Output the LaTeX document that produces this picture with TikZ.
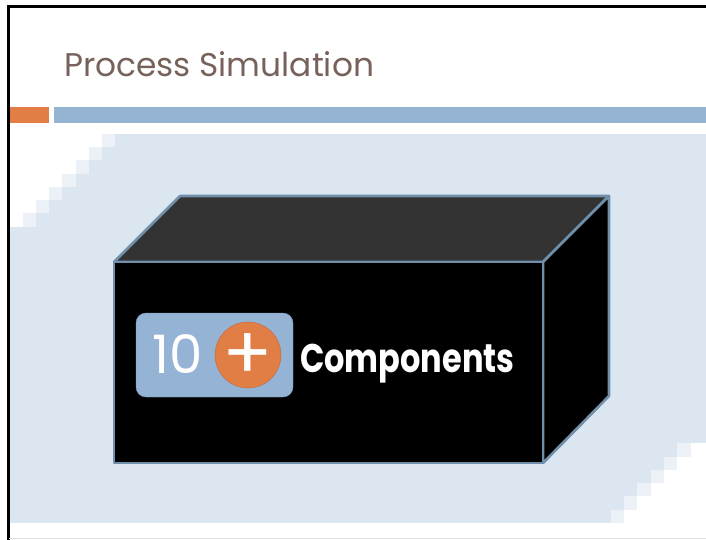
\documentclass[tikz,border=0pt]{standalone}
\usepackage{fontspec}
\usepackage{graphicx}
\setmainfont{Poppins}
\definecolor{titlebrown}{HTML}{77625B}
\definecolor{accentorange}{HTML}{E07E45}
\definecolor{barblue}{HTML}{94B4D2}
\definecolor{bglight}{HTML}{DCE6F0}
\definecolor{bgfade}{HTML}{EBF1F7}
\definecolor{boxblue}{HTML}{6F8FAA}
\definecolor{topgray}{HTML}{333333}
\definecolor{badgeblue}{HTML}{95B3D5}
\definecolor{badgeedge}{HTML}{7D9CBB}
\definecolor{circleedge}{HTML}{C2693A}
\begin{document}
\begin{tikzpicture}[x=1pt, y=-1pt]
    \tikzstyle{every node}=[inner sep=0pt, text=white]
    \tikzstyle{boxedge}=[draw=boxblue, line width=2.6pt, line join=round]
    \useasboundingbox (0,0) rectangle (706,540);
    \fill[white] (0,0) rectangle (706,540);
    \fill[bglight] (10,134) rectangle (706,523);
    \foreach \i in {0,...,6} {
        \fill[white] (10,134+13.2*\i) rectangle (102-13.2*\i,147.3+13.2*\i);
        \fill[bgfade] (102-13.2*\i,134+13.2*\i) rectangle (115.2-13.2*\i,147.3+13.2*\i);
    }
    \foreach \j in {0,...,5} {
        \fill[white] (624+13.3*\j,509.7-13.3*\j) rectangle (706,523-13.3*\j);
        \fill[bgfade] (610.7+13.3*\j,509.7-13.3*\j) rectangle (624+13.3*\j,523-13.3*\j);
    }
    \fill[accentorange] (8,107) rectangle (49,123);
    \fill[barblue] (54,107) rectangle (706,123);
    \node[anchor=base west, text=titlebrown, font=\fontsize{32.8}{36}\selectfont] (title) at (64,77) {Process Simulation};
    \coordinate (ftl) at (114,262);
    \coordinate (ftr) at (543,262);
    \coordinate (fbr) at (543,463);
    \coordinate (btl) at (180,196);
    \coordinate (btr) at (609,196);
    \coordinate (bbr) at (609,396);
    \filldraw[boxedge, fill=topgray] (ftl) -- (btl) -- (btr) -- (ftr) -- cycle;
    \filldraw[boxedge, fill=black] (ftr) -- (btr) -- (bbr) -- (fbr) -- cycle;
    \filldraw[boxedge, fill=black] (ftl) rectangle (fbr);
    \node[draw=badgeedge, fill=badgeblue, rounded corners=10pt, minimum width=157pt, minimum height=84pt] (badge) at (214.5,355) {};
    \node[anchor=base, font=\fontsize{53}{56}\selectfont] (count) at (178,373) {10};
    \node[circle, draw=circleedge, fill=accentorange, minimum size=66pt] (plus) at (248,355) {};
    \node[font=\fontsize{74}{76}\selectfont] (plussign) at (248,357) {+};
    \node[anchor=base west, font=\bfseries\fontsize{40}{44}\selectfont] (label) at (300,372) {\scalebox{0.8}[1]{Components}};
    \draw[line width=2.5pt] (706,6.5) -- (8.5,6.5) -- (8.5,540);
    \draw[black!12] (8.5,538.5) -- (706,538.5);
\end{tikzpicture}
\end{document}
